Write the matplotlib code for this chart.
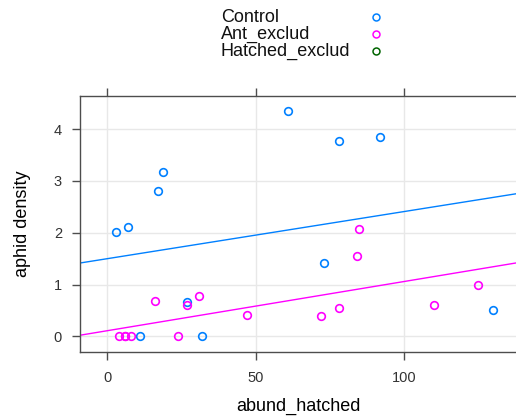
import matplotlib
matplotlib.use("Agg")
import matplotlib.pyplot as plt
from matplotlib.lines import Line2D
import numpy as np

plt.rcParams['font.family'] = ['Liberation Sans', 'DejaVu Sans']

# ---- data ----
groups = ["Control", "Ant_exclud", "Hatched_exclud"]
colors = ["#0080ff", "#ff00ff", "#006400"]

control_x = [61, 78, 92, 19, 17, 3, 7, 73, 27, 130, 11, 32]
control_y = [4.35, 3.77, 3.85, 3.17, 2.80, 2.01, 2.11, 1.41, 0.67, 0.52, 0, 0]

ant_x = [85, 84, 16, 27, 31, 47, 72, 78, 110, 125, 4, 6, 6, 8, 24]
ant_y = [2.07, 1.55, 0.68, 0.60, 0.79, 0.41, 0.40, 0.54, 0.60, 1.00, 0, 0, 0, 0, 0]

hatched_x = []
hatched_y = []

# regression lines (intercept, slope)
control_fit = (1.50, 0.0091)
ant_fit = (0.11, 0.0095)

xticks = [0, 50, 100]
yticks = [0, 1, 2, 3, 4]
xlim = (-9.1, 137.7)
ylim = (-0.30, 4.64)

# ---- figure ----
W, H = 516, 417
fig = plt.figure(figsize=(W / 100, H / 100), dpi=100)
ax = fig.add_axes([80 / W, (H - 352) / H, (W - 80) / W, (352 - 96) / H])

frame_col = "#4d4d4d"
ax.set_xlim(*xlim)
ax.set_ylim(*ylim)
ax.set_xticks(xticks)
ax.set_yticks(yticks)
ax.grid(True, color="#e8e8e8", linewidth=1.0)
ax.set_axisbelow(True)
for s in ["left", "bottom", "top"]:
    ax.spines[s].set_color(frame_col)
    ax.spines[s].set_linewidth(1.0)
ax.spines["right"].set_visible(False)
ax.tick_params(axis="both", direction="out", length=6, width=1.0, color=frame_col,
               labelsize=10.5, labelcolor="#333333", pad=4)
ax.tick_params(axis="x", top=True, labeltop=False, pad=8)
ax.tick_params(axis="y", pad=7)

series = [(control_x, control_y, colors[0], control_fit),
          (ant_x, ant_y, colors[1], ant_fit),
          (hatched_x, hatched_y, colors[2], None)]

xs_line = np.array(xlim)
for xv, yv, c, fit in series:
    if fit is not None:
        ax.plot(xs_line, fit[0] + fit[1] * xs_line, color=c, linewidth=1.0, zorder=2)
for xv, yv, c, fit in series:
    ax.plot(xv, yv, linestyle="none", marker="o", markersize=5.5,
            markerfacecolor="none", markeredgecolor=c, markeredgewidth=1.2, zorder=3)

ax.set_xlabel("abund_hatched", fontsize=13, labelpad=9)
ax.set_ylabel("aphid density", fontsize=13, labelpad=16)

# ---- legend (lattice style key) ----
rows_y = [17, 34, 51]
for g, c, ry in zip(groups, colors, rows_y):
    fig.text(221 / W, 1 - ry / H, g, fontsize=13, ha="left", va="center", color="#111111")
    fig.add_artist(Line2D([376 / W], [1 - ry / H], transform=fig.transFigure,
                          linestyle="none", marker="o", markersize=5,
                          markerfacecolor="none", markeredgecolor=c, markeredgewidth=1.1))

fig.savefig("out.png", dpi=100)
